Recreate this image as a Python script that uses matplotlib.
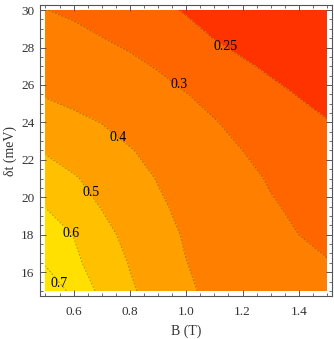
import matplotlib
matplotlib.use("Agg")
import matplotlib.pyplot as plt
import numpy as np
from matplotlib.ticker import MultipleLocator

# --- data ---
B = [0.5, 0.6, 0.7, 0.8, 0.9, 1.0, 1.1, 1.2, 1.3, 1.4, 1.5]
dt = [15.0, 16.5, 18.0, 19.5, 21.0, 22.5, 24.0, 25.5, 27.0, 28.5, 30.0]

# z[row = dt][col = B]
z = [
    [0.790, 0.669, 0.578, 0.512, 0.463, 0.418, 0.372, 0.357, 0.343, 0.330, 0.318],
    [0.688, 0.619, 0.556, 0.495, 0.448, 0.401, 0.379, 0.359, 0.340, 0.321, 0.302],
    [0.644, 0.598, 0.529, 0.474, 0.429, 0.392, 0.369, 0.346, 0.323, 0.300, 0.291],
    [0.598, 0.547, 0.496, 0.454, 0.412, 0.380, 0.356, 0.330, 0.305, 0.291, 0.281],
    [0.545, 0.508, 0.470, 0.432, 0.396, 0.369, 0.342, 0.315, 0.295, 0.283, 0.271],
    [0.492, 0.463, 0.433, 0.404, 0.378, 0.352, 0.326, 0.300, 0.287, 0.274, 0.261],
    [0.441, 0.420, 0.398, 0.374, 0.350, 0.326, 0.302, 0.289, 0.276, 0.264, 0.252],
    [0.394, 0.375, 0.357, 0.338, 0.320, 0.301, 0.288, 0.275, 0.261, 0.248, 0.236],
    [0.362, 0.345, 0.329, 0.312, 0.296, 0.283, 0.270, 0.256, 0.243, 0.230, 0.217],
    [0.331, 0.316, 0.301, 0.288, 0.275, 0.262, 0.249, 0.236, 0.223, 0.210, 0.198],
    [0.301, 0.290, 0.279, 0.269, 0.258, 0.247, 0.236, 0.226, 0.215, 0.204, 0.193],
]

levels = [0.25, 0.3, 0.4, 0.5, 0.6, 0.7]
fill_levels = [0.0] + levels + [1.0]
fill_colors = ["#ff3300", "#ff6600", "#ff8000", "#ffa000", "#ffc000",
               "#ffe000", "#ffe600"]

# contour label text and where it sits
label_text = ["0.7", "0.6", "0.5", "0.4", "0.3", "0.25"]
label_B = [0.548, 0.592, 0.663, 0.758, 0.976, 1.139]
label_dt = [15.42, 18.09, 20.26, 23.22, 26.05, 28.05]

SERIF = ["Liberation Serif", "DejaVu Serif"]
FRAME = "#555555"
TEXT = "#333333"

fig = plt.figure(figsize=(3.34, 3.39), dpi=100, facecolor="white")
ax = fig.add_axes([40 / 334, 1 - 296 / 339, 292 / 334, 291 / 339])

Z = np.array(z)
ax.contourf(B, dt, Z, levels=fill_levels, colors=fill_colors)
ax.contour(B, dt, Z, levels=levels, colors=[(0.25, 0.2, 0.1, 0.4)],
           linewidths=0.7, linestyles=[(0, (2.0, 1.6))])

for t, x, y in zip(label_text, label_B, label_dt):
    ax.text(x, y, t, ha="center", va="center", fontsize=10,
            family=SERIF, color="black")

ax.set_xlim(0.4805, 1.5178)
ax.set_ylim(14.73, 30.27)

ax.xaxis.set_major_locator(MultipleLocator(0.2))
ax.xaxis.set_minor_locator(MultipleLocator(0.05))
ax.yaxis.set_major_locator(MultipleLocator(2))
ax.yaxis.set_minor_locator(MultipleLocator(0.5))
ax.set_xticks([0.6, 0.8, 1.0, 1.2, 1.4])
ax.set_xticklabels(["0.6", "0.8", "1.0", "1.2", "1.4"])

ax.tick_params(which="both", direction="in", top=True, right=True,
               color=FRAME, labelcolor=TEXT, labelsize=9.5)
ax.tick_params(axis="x", which="both", pad=7)
ax.tick_params(axis="y", which="both", pad=4)
ax.tick_params(which="major", length=4, width=0.7)
ax.tick_params(which="minor", length=2, width=0.6)
for lab in ax.get_xticklabels() + ax.get_yticklabels():
    lab.set_family(SERIF)

for s in ax.spines.values():
    s.set_color(FRAME)
    s.set_linewidth(0.8)

ax.set_xlabel("B (T)", family=SERIF, fontsize=10, color=TEXT, labelpad=5)
ax.set_ylabel("δt (meV)", family=SERIF, fontsize=10, color=TEXT, labelpad=3)

fig.savefig("out.png", dpi=100, facecolor="white")
